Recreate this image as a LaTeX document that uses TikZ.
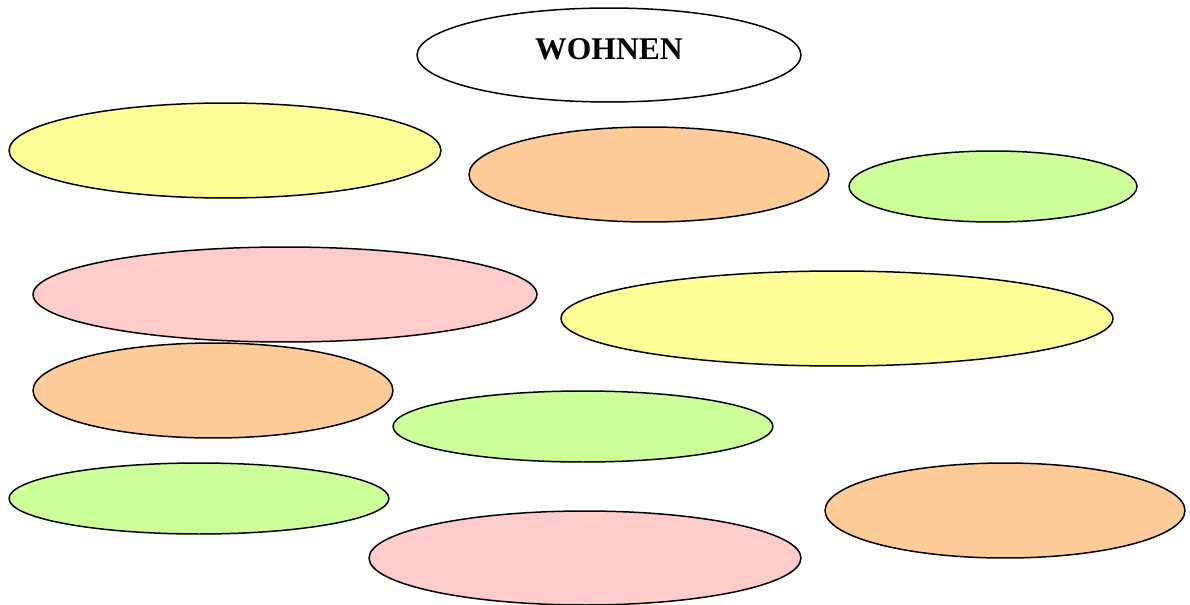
\documentclass[tikz,border=0pt]{standalone}
\usepackage{fontspec}
\setmainfont{Liberation Serif}
\usetikzlibrary{shapes.geometric}
\definecolor{cyel}{HTML}{FFFF99}
\definecolor{cora}{HTML}{FFCC99}
\definecolor{cgrn}{HTML}{CCFF99}
\definecolor{cpnk}{HTML}{FFCCCC}
\tikzset{
  blob/.style={ellipse, draw=black, line width=0.85pt, inner sep=0pt},
}
\begin{document}
\begin{tikzpicture}[x=0.02cm,y=-0.02cm]
\useasboundingbox (0,0) rectangle (1190,605);
\node[blob, fill=white, minimum width=7.68cm, minimum height=1.88cm] (wohnen) at (609,55) {};
\node[font=\fontsize{18}{21}\selectfont\bfseries] (title) at (609,49) {WOHNEN};
\node[blob, fill=cyel, minimum width=8.64cm, minimum height=1.9cm] (e2) at (225,150.5) {};
\node[blob, fill=cora, minimum width=7.2cm, minimum height=1.9cm] (e3) at (649,174.5) {};
\node[blob, fill=cgrn, minimum width=5.76cm, minimum height=1.42cm] (e4) at (993,186.5) {};
\node[blob, fill=cpnk, minimum width=10.08cm, minimum height=1.9cm] (e5) at (285,294.5) {};
\node[blob, fill=cyel, minimum width=11.04cm, minimum height=1.9cm] (e6) at (837,318.5) {};
\node[blob, fill=cora, minimum width=7.2cm, minimum height=1.9cm] (e7) at (213,390.5) {};
\node[blob, fill=cgrn, minimum width=7.6cm, minimum height=1.42cm] (e8) at (583,426.5) {};
\node[blob, fill=cgrn, minimum width=7.6cm, minimum height=1.42cm] (e9) at (199,498.5) {};
\node[blob, fill=cora, minimum width=7.2cm, minimum height=1.9cm] (e10) at (1005,510.5) {};
\node[blob, fill=cpnk, minimum width=8.64cm, minimum height=1.88cm] (e11) at (585,558) {};
\end{tikzpicture}
\end{document}
